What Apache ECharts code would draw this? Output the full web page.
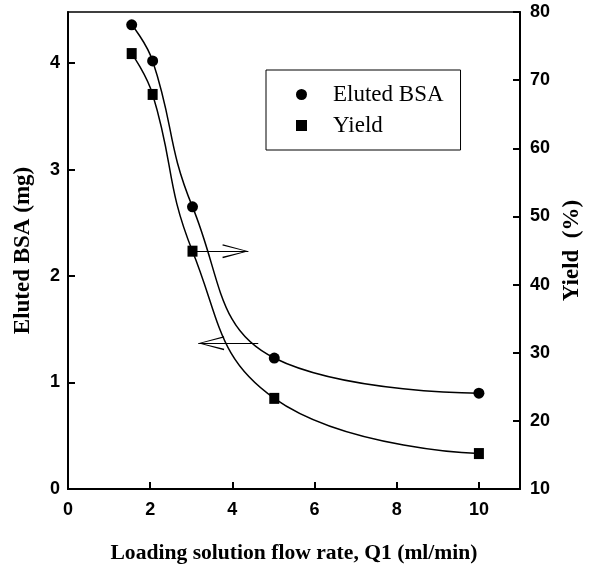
<!DOCTYPE html>
<html>
<head>
<meta charset="utf-8">
<script src="https://cdn.jsdelivr.net/npm/echarts@6/dist/echarts.min.js"></script>
<style>html,body{margin:0;padding:0;background:#fff}#c{width:590px;height:564px}</style>
</head>
<body>
<div id="c"></div>
<script>
// Data
var flowRate = [1.55, 2.06, 3.03, 5.02, 10];          // Q1 (ml/min)
var elutedBSA = [4.36, 4.02, 2.65, 1.23, 0.90];       // mg (left axis)
var yieldPct = [73.9, 67.9, 44.9, 23.3, 15.2];        // % (right axis)
var xTicks = [0, 2, 4, 6, 8, 10];
var leftTicks = [0, 1, 2, 3, 4];
var rightTicks = [10, 20, 30, 40, 50, 60, 70, 80];
// Annotation arrows (data coordinates)
var arrowToYield = [[3.03, 44.9], [4.39, 44.9]];      // on yield axis
var arrowToBSA = [[4.63, 1.37], [3.17, 1.37]];        // on BSA axis

var chevron = 'path://M7,0 L14,26 L12.6,26.4 L7,3 L1.4,26.4 L0,26 Z';

function pairs(xs, ys) { return xs.map(function (x, i) { return [x, ys[i]]; }); }

var tickFont = { fontFamily: 'Liberation Sans', fontWeight: 'bold', fontSize: 18, color: '#000' };
var titleFont = { fontFamily: 'Liberation Serif', fontWeight: 'bold', fontSize: 21.6, color: '#000' };
var yTitleFont = { fontFamily: 'Liberation Serif', fontWeight: 'bold', fontSize: 23, color: '#000' };

function arrowMark(pts) {
  return {
    silent: true,
    symbol: 'none',
    label: { show: false },
    emphasis: { disabled: true },
    lineStyle: { color: '#000', width: 1, type: 'solid' },
    data: [[
      { coord: pts[0], symbol: 'none' },
      { coord: pts[1], symbol: chevron, symbolSize: [14, 26], symbolOffset: [0, '50%'] }
    ]]
  };
}

var chart = echarts.init(document.getElementById('c'));
chart.setOption({
  animation: false,
  backgroundColor: '#fff',
  grid: { left: 68, right: 70, top: 12, bottom: 75, outerBoundsMode: 'none', containLabel: false,
          show: true, borderColor: '#000', borderWidth: 1.5 },
  legend: {
    orient: 'vertical', left: 266, top: 70,
    padding: [13, 17, 13, 30],
    itemWidth: 11, itemHeight: 11, itemGap: 8,
    borderColor: '#000', borderWidth: 1,
    textStyle: { fontFamily: 'Liberation Serif', fontSize: 23, lineHeight: 22, color: '#000', padding: [0, 0, 0, 21] },
    data: [{ name: 'Eluted BSA', icon: 'circle' }, { name: 'Yield', icon: 'rect' }]
  },
  xAxis: {
    type: 'value', min: 0, max: 11, interval: 2,
    name: 'Loading solution flow rate, Q1 (ml/min)', nameLocation: 'middle', nameGap: 53,
    nameTextStyle: titleFont,
    axisLine: { lineStyle: { color: '#000', width: 2 } },
    axisTick: { inside: true, length: 7, lineStyle: { color: '#000', width: 2 } },
    axisLabel: Object.assign({ margin: 12, showMaxLabel: false,
      formatter: function (v) { return xTicks.indexOf(v) >= 0 ? String(v) : ''; } }, tickFont),
    splitLine: { show: false }
  },
  yAxis: [{
    type: 'value', position: 'left', min: 0, max: 4.48, interval: 1,
    name: 'Eluted BSA (mg)', nameLocation: 'middle', nameGap: 33, nameRotate: 90,
    nameTextStyle: yTitleFont,
    axisLine: { show: true, lineStyle: { color: '#000', width: 2 } },
    axisTick: { inside: true, length: 7, lineStyle: { color: '#000', width: 2 } },
    axisLabel: Object.assign({ margin: 8, showMaxLabel: false,
      formatter: function (v) { return leftTicks.indexOf(v) >= 0 ? String(v) : ''; } }, tickFont),
    splitLine: { show: false }
  }, {
    type: 'value', position: 'right', min: 10, max: 80, interval: 10,
    name: 'Yield  (%)', nameLocation: 'middle', nameGap: 39, nameRotate: 90,
    nameTextStyle: yTitleFont,
    axisLine: { show: true, lineStyle: { color: '#000', width: 2 } },
    axisTick: { inside: true, length: 7, lineStyle: { color: '#000', width: 2 } },
    axisLabel: Object.assign({ margin: 10,
      formatter: function (v) { return rightTicks.indexOf(v) >= 0 ? String(v) : ''; } }, tickFont),
    splitLine: { show: false }
  }],
  series: [{
    name: 'Eluted BSA', type: 'line', yAxisIndex: 0,
    data: pairs(flowRate, elutedBSA), smooth: 0.45,
    symbol: 'circle', symbolSize: 11,
    itemStyle: { color: '#000' }, lineStyle: { color: '#000', width: 1.5 },
    markLine: arrowMark(arrowToBSA)
  }, {
    name: 'Yield', type: 'line', yAxisIndex: 1,
    data: pairs(flowRate, yieldPct), smooth: 0.45,
    symbol: 'rect', symbolSize: [10, 11],
    itemStyle: { color: '#000' }, lineStyle: { color: '#000', width: 1.5 },
    markLine: arrowMark(arrowToYield)
  }]
});
</script>
</body>
</html>
